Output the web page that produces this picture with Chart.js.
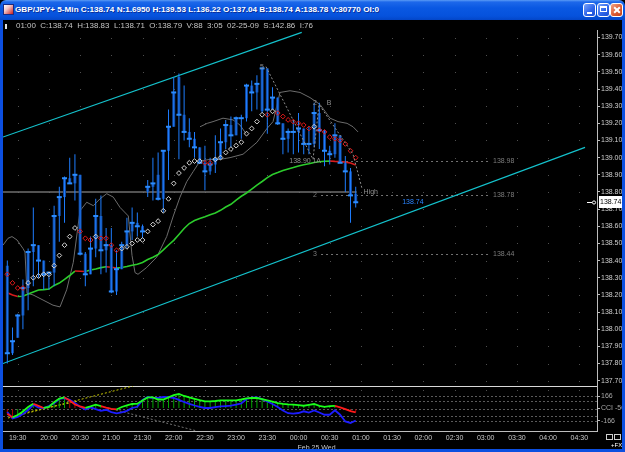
<!DOCTYPE html>
<html>
<head>
<meta charset="utf-8">
<title>GBP/JPY+ 5-Min</title>
<script src="https://cdn.jsdelivr.net/npm/chart.js@4.4.1/dist/chart.umd.min.js"></script>
<style>
  html, body { margin: 0; padding: 0; background: #000; }
  body { position: relative; width: 625px; height: 452px; overflow: hidden; font-family: "Liberation Sans", Arial, sans-serif; }
  #titlebar { position: absolute; left: 0; top: 0; width: 625px; height: 20px;
    background: linear-gradient(#5b9bf5 0%, #1d68ea 10%, #0a58e2 40%, #0652dc 80%, #0346c8 100%); border-radius: 6px 6px 0 0; }
  #icon { position: absolute; left: 3px; top: 4px; width: 11px; height: 11px; background: linear-gradient(135deg, #ffffff 0%, #f2c2c2 40%, #c81c1c 100%); border: 1px solid #1a2a80; box-sizing: border-box; }
  #titleText { position: absolute; left: 15px; top: 5px; color: #fff; font: bold 8px "Liberation Sans", Arial, sans-serif; line-height: 10px; white-space: pre; transform-origin: 0 0; text-shadow: 1px 1px 0 #0b2f9a; }
  .btn { position: absolute; top: 3px; width: 13px; height: 14px; border: 1px solid #fff; border-radius: 3px; box-sizing: border-box;
    background: linear-gradient(135deg, #7aa4fa 0%, #2f66ea 55%, #1c4fd2 100%); }
  #bMin { left: 583px; } #bMax { left: 597px; }
  #bClose { left: 610px; background: linear-gradient(135deg, #f2a588 0%, #dc5c34 55%, #c2401a 100%); }
  #bMin i { position: absolute; left: 3px; top: 8px; width: 5px; height: 2px; background: #fff; }
  #bMax i { position: absolute; left: 2px; top: 2px; width: 7px; height: 6px; border: 1px solid #fff; border-top-width: 2px; box-sizing: border-box; }
  #bClose i, #bClose b { position: absolute; left: 2px; top: 5px; width: 8px; height: 2px; background: #fff; transform: rotate(45deg); }
  #bClose b { transform: rotate(-45deg); }
  #info { position: absolute; left: 16px; top: 21px; color: #c4c4c4; font: 7px "Liberation Sans", Arial, sans-serif; line-height: 10px; white-space: pre; transform-origin: 0 0; }
  #mark { position: absolute; left: 5px; top: 24px; width: 2px; height: 5px; background: #e0e0e0; }
  canvas { position: absolute; left: 0; top: 20px; }
  .frame { position: absolute; background: #0c4fe0; }
  #fx { position: absolute; left: 611px; top: 442px; color: #fff; font: 6px "Liberation Sans", Arial, sans-serif; line-height: 7px; }
  .box { position: absolute; top: 434px; width: 7px; height: 6px; border: 1px solid #cfcfcf; box-sizing: border-box; }
</style>
</head>
<body>
<div id="titlebar">
  <div id="icon"></div>
  <div id="titleText">GBP/JPY+ 5-Min C:138.74 N:1.6950 H:139.53 L:136.22 O:137.04 B:138.74 A:138.78 V:30770 OI:0</div>
  <div class="btn" id="bMin"><i></i></div>
  <div class="btn" id="bMax"><i></i></div>
  <div class="btn" id="bClose"><i></i><b></b></div>
</div>
<canvas id="chart" width="625" height="432"></canvas>
<div id="info">01:00  C:138.74  H:138.83  L:138.71  O:138.79  V:88  3:05  02-25-09  S:142.86  I:76</div>
<div id="mark"></div>
<div class="box" style="left:606px"></div>
<div class="box" style="left:614px"></div>
<div id="fx">+FX</div>
<div class="frame" style="left:0;top:20px;width:3px;height:432px"></div>
<div class="frame" style="left:622px;top:20px;width:3px;height:432px"></div>
<div class="frame" style="left:0;top:449px;width:625px;height:3px"></div>

<script>
// 5-minute bars, 19:20 onwards (bar index = position on the x axis)
const opens  = [138.37, 137.86, 137.95, 138.08, 138.24, 138.45, 138.49, 138.40, 138.32, 138.33,
                138.66, 138.77, 138.88, 138.85, 138.90, 138.44, 138.32, 138.47, 138.66, 138.46,
                138.49, 138.22, 138.35, 138.49, 138.57, 138.62, 138.60, 138.80, 138.83, 138.90,
                138.76, 139.04, 139.18, 139.47, 139.25, 139.15, 139.11, 139.06, 138.97, 138.92,
                138.96, 138.99, 139.09, 139.19, 139.13, 139.23, 139.23, 139.42, 139.38, 139.27,
                139.52, 139.28, 139.35, 139.20, 139.11, 139.15, 139.15, 139.17, 139.08, 139.08,
                139.26, 139.16, 139.04, 139.02, 139.13, 138.97, 138.92, 138.79];
const highs  = [138.40, 138.01, 138.09, 138.29, 138.47, 138.71, 138.49, 138.40, 138.33, 138.72,
                138.83, 138.89, 139.00, 139.02, 138.90, 138.45, 138.54, 138.76, 138.78, 138.59,
                138.59, 138.46, 138.51, 138.65, 138.71, 138.68, 138.61, 138.87, 139.00, 139.03,
                139.04, 139.28, 139.47, 139.49, 139.42, 139.23, 139.15, 139.06, 139.07, 139.00,
                139.13, 139.17, 139.22, 139.24, 139.24, 139.25, 139.43, 139.45, 139.48, 139.53,
                139.52, 139.41, 139.35, 139.20, 139.17, 139.22, 139.26, 139.17, 139.18, 139.32,
                139.32, 139.16, 139.07, 139.20, 139.13, 139.01, 138.94, 138.83];
const lows   = [137.80, 137.85, 137.95, 138.00, 138.11, 138.25, 138.30, 138.23, 138.23, 138.25,
                138.51, 138.62, 138.85, 138.75, 138.43, 138.25, 138.32, 138.42, 138.32, 138.33,
                138.21, 138.20, 138.35, 138.47, 138.52, 138.54, 138.53, 138.77, 138.75, 138.75,
                138.68, 138.87, 139.18, 138.99, 139.10, 139.06, 139.00, 138.97, 138.81, 138.90,
                138.91, 138.99, 139.05, 139.06, 139.13, 139.11, 139.21, 139.27, 139.28, 139.26,
                139.14, 139.28, 139.19, 139.02, 139.03, 139.02, 139.03, 139.02, 139.02, 139.06,
                139.05, 138.95, 138.96, 139.00, 138.97, 138.80, 138.62, 138.71];
const closes = [137.86, 137.93, 138.08, 138.24, 138.45, 138.49, 138.40, 138.32, 138.33, 138.66,
                138.77, 138.88, 138.85, 138.90, 138.44, 138.32, 138.47, 138.66, 138.46, 138.49,
                138.22, 138.35, 138.49, 138.57, 138.62, 138.60, 138.57, 138.83, 138.85, 138.76,
                139.04, 139.18, 139.38, 139.25, 139.15, 139.11, 139.06, 138.97, 138.92, 138.96,
                138.99, 139.09, 139.19, 139.13, 139.23, 139.23, 139.42, 139.38, 139.43, 139.52,
                139.28, 139.35, 139.20, 139.11, 139.15, 139.15, 139.17, 139.08, 139.08, 139.26,
                139.16, 139.04, 139.02, 139.13, 138.97, 138.92, 138.78, 138.74];

// moving average (green rising, red falling)
const maValues = [138.213, 138.199, 138.191, 138.192, 138.205, 138.217, 138.229, 138.231, 138.234, 138.255,
                  138.269, 138.290, 138.313, 138.339, 138.338, 138.336, 138.345, 138.351, 138.359, 138.364,
                  138.361, 138.356, 138.360, 138.366, 138.373, 138.379, 138.389, 138.406, 138.419, 138.435,
                  138.462, 138.491, 138.518, 138.552, 138.587, 138.616, 138.634, 138.645, 138.655, 138.667,
                  138.678, 138.693, 138.712, 138.728, 138.753, 138.775, 138.794, 138.817, 138.840, 138.861,
                  138.884, 138.902, 138.913, 138.925, 138.934, 138.942, 138.951, 138.959, 138.964, 138.972,
                  138.976, 138.979, 138.980, 138.978, 138.977, 138.974, 138.969, 138.957];

// parabolic SAR; sarUp 1 = below price (white), 0 = above price (red)
const sarValues = [138.32, 138.27, 138.24, 138.24, 138.27, 138.30, 138.31, 138.32, 138.32, 138.37,
                   138.43, 138.49, 138.54, 138.59, 138.57, 138.53, 138.52, 138.54, 138.53, 138.53,
                   138.49, 138.46, 138.47, 138.48, 138.50, 138.52, 138.52, 138.57, 138.61, 138.63,
                   138.69, 138.76, 138.85, 138.91, 138.94, 138.97, 138.98, 138.98, 138.97, 138.97,
                   138.99, 139.00, 139.03, 139.05, 139.07, 139.09, 139.14, 139.17, 139.21, 139.25,
                   139.25, 139.27, 139.26, 139.24, 139.22, 139.21, 139.20, 139.19, 139.17, 139.18,
                   139.16, 139.15, 139.12, 139.11, 139.10, 139.08, 139.04, 139.00];
const sarUp = [0, 0, 0, 0, 1, 1, 1, 1, 1, 1,
               1, 1, 1, 1, 0, 0, 0, 1, 0, 0,
               0, 0, 1, 1, 1, 1, 1, 1, 1, 1,
               1, 1, 1, 1, 1, 1, 1, 1, 0, 0,
               1, 1, 1, 1, 1, 1, 1, 1, 1, 1,
               0, 1, 0, 0, 0, 0, 0, 0, 0, 1,
               0, 0, 0, 0, 0, 0, 0, 0];

// thin grey envelope curves (bar index, price)
const grayX = [-0.83, 0.13, 0.90, 1.87, 3.02, 3.40, 3.79, 4.94, 6.87, 8.79, 10.13, 11.42, 12.69, 13.98, 15.27,
               16.54, 17.83, 19.12, 20.38, 21.67, 23.27, 23.98, 24.56, 25.13, 26.81, 28.73, 30.65, 31.92,
               33.21, 34.50, 35.77, 37.06, 38.98, 40.90, 42.83, 45.33, 48.02, 49.94, 51.10, 52.44, 54.37,
               56.29, 58.21, 60.13, 62.06, 63.60, 65.33, 66.48, 67.44];
const grayY = [138.49, 138.53, 138.54, 138.52, 138.47, 138.45, 138.21, 138.20, 138.17, 138.14, 138.13, 138.23,
               138.39, 138.69, 138.74, 138.72, 138.76, 138.79, 138.77, 138.71, 138.66, 138.43, 138.33, 138.32,
               138.36, 138.42, 138.54, 138.66, 138.77, 138.86, 138.92, 138.98, 138.99, 138.99, 139.00, 139.02,
               139.09, 139.17, 139.21, 139.38, 139.39, 139.38, 139.35, 139.31, 139.23, 139.21, 139.20, 139.18,
               139.15];
const gray2X = [37.06, 38.44, 39.56, 41.48, 43.40, 44.75, 45.90];
const gray2Y = [139.18, 139.20, 139.21, 139.23, 139.22, 139.19, 139.14];

// trend channel and wave lines
const channelTopX = [-0.83, 56.62], channelTopY = [139.12, 139.73];
const channelLowX = [-0.83, 111.10], channelLowY = [137.80, 139.06];
const levelX = [-0.83, 67.19], levelY = [138.80, 138.80];
const waveX = [49.75, 58.79, 59.94, 66.48, 68.21];
const waveY = [139.53, 138.99, 139.31, 139.02, 138.82];

// projected levels
const fibLevels = [138.98, 138.78, 138.44];
const fibTags = ['', '2', '3'];
const fibFrom = 60.33, fibTo = 92.83, fibLabelAt = 93.4, fibTagAt = 59.17;

// notes on the price panel
const noteText  = ['5', '2', 'B', '138.90', '1A', 'High'];
const noteX     = [48.98, 59.17, 61.87, 56.29, 59.5, 69.9];
const notePrice = [139.53, 139.32, 139.32, 138.98, 138.98, 138.80];
const lastLabelX = 78.0;

// CCI panel
const cciFast = [-69, -119, -87, -40, 20, 63, 35, 7, 20, 84,
                 132, 147, 107, 53, 27, 9, 27, 51, 33, 13,
                 -4, -13, 20, 43, 60, 64, 107, 147, 149, 120,
                 120, 149, 180, 193, 167, 147, 129, 111, 96, 96,
                 100, 107, 109, 109, 109, 120, 136, 140, 140, 124,
                 107, 91, 73, 63, 56, 51, 44, 37, 49, 60,
                 36, 23, 31, 36, 16, -9, -36, -51];
const cciDown = [1, 1, 0, 0, 0, 0, 1, 1, 0, 0,
                 0, 0, 1, 1, 1, 1, 0, 0, 0, 1,
                 1, 1, 0, 0, 0, 0, 0, 0, 0, 0,
                 0, 0, 0, 0, 0, 0, 0, 0, 0, 0,
                 0, 0, 0, 0, 0, 0, 0, 0, 0, 0,
                 0, 0, 0, 0, 0, 0, 0, 0, 0, 0,
                 0, 0, 0, 0, 1, 1, 1, 1];
const cciSlow = [-47, -133, -113, -73, -20, 49, 13, 7, 33, 71,
                 127, 137, 116, 73, 24, -13, 16, -7, -31, -17,
                 -49, -64, -53, -31, 7, 23, 113, 153, 140, 140,
                 156, 151, 140, 116, 87, 63, 40, 23, 7, 7,
                 17, 28, 33, 37, 51, 67, 127, 144, 148, 124,
                 93, 60, 20, -27, -63, -68, -60, -37, -55, -27,
                 -53, -83, -83, -24, -83, -173, -193, -160];
const cciLevels = [166, 100, 0, -100, -166];
const cciTicks = [166, 0, -166];
const cciLabel = 'CCI -50';
const cciTrend1X = [0.13, 24.17], cciTrend1Y = [-127, 300];
const cciTrend2X = [2.44, 13.6], cciTrend2Y = [-73, 100];
const cciTrend3X = [19.37, 36.48], cciTrend3Y = [7, -300];

// time axis
const timeLabels = ['19:30', '20:00', '20:30', '21:00', '21:30', '22:00', '22:30', '23:00', '23:30', '00:00',
                    '00:30', '01:00', '01:30', '02:00', '02:30', '03:00', '03:30', '04:00', '04:30'];
const firstTick = 2, tickStep = 6;
const dateLabel = 'Feb 25 Wed';
const dateTick = 56;

const pts = (xs, ys) => xs.map((v, k) => ({x: v, y: ys[k]}));
const byIndex = arr => arr.map((v, i) => ({x: i, y: v}));
const tickFont = {family: 'Liberation Sans', size: 7};

const chrome = {
  id: 'chrome',
  beforeDraw(chart) {
    const c = chart.ctx;
    c.save();
    c.fillStyle = '#000';
    c.fillRect(0, 0, chart.width, chart.height);
    c.restore();
  },
  beforeDatasetsDraw(chart) {
    const {ctx: c, chartArea: a} = chart;
    const {x, y, yC} = chart.scales;
    c.save();
    // grid dots at each intersection
    c.fillStyle = '#4f4f4f';
    x.ticks.forEach(t => {
      const px = Math.round(x.getPixelForValue(t.value));
      y.ticks.forEach(u => c.fillRect(px, Math.round(y.getPixelForValue(u.value)), 1, 1));
      c.fillRect(px, Math.round(yC.top) + 4, 1, 1);
    });
    // CCI levels
    c.strokeStyle = '#5a5a5a';
    c.lineWidth = 1;
    c.setLineDash([2, 2]);
    cciLevels.forEach(v => {
      const py = Math.round(yC.getPixelForValue(v)) + 0.5;
      c.beginPath(); c.moveTo(a.left, py); c.lineTo(a.right, py); c.stroke();
    });
    // projected levels
    c.strokeStyle = '#727272';
    c.setLineDash([2, 3]);
    fibLevels.forEach(v => {
      const py = Math.round(y.getPixelForValue(v)) + 0.5;
      c.beginPath(); c.moveTo(x.getPixelForValue(fibFrom), py); c.lineTo(x.getPixelForValue(fibTo), py); c.stroke();
    });
    c.setLineDash([]);
    // panel separator
    c.strokeStyle = '#d8d8d8';
    const sep = Math.round(yC.top) + 0.5;
    c.beginPath(); c.moveTo(a.left, sep); c.lineTo(a.right, sep); c.stroke();
    c.restore();
  },
  afterDatasetsDraw(chart) {
    const {ctx: c} = chart;
    const {x, y} = chart.scales;
    c.save();
    c.font = '7px "Liberation Sans"';
    c.textBaseline = 'middle';
    // level labels
    c.fillStyle = '#7c7c7c';
    fibLevels.forEach((v, k) => {
      const py = y.getPixelForValue(v);
      c.textAlign = 'left';
      c.fillText(v.toFixed(2), x.getPixelForValue(fibLabelAt), py);
      if (fibTags[k]) {
        c.textAlign = 'center';
        c.fillText(fibTags[k], x.getPixelForValue(fibTagAt), py);
      }
    });
    // wave notes
    c.fillStyle = '#8e8e8e';
    c.textAlign = 'center';
    noteText.forEach((t, k) => c.fillText(t, x.getPixelForValue(noteX[k]), y.getPixelForValue(notePrice[k])));
    // last price in blue
    const last = closes[closes.length - 1];
    const ly = y.getPixelForValue(last);
    c.fillStyle = '#2a84ff';
    c.fillText(last.toFixed(2), x.getPixelForValue(lastLabelX), ly);
    // price marker on the axis
    c.fillStyle = '#fff';
    c.fillRect(599, Math.round(ly) - 6, 23, 12);
    c.fillStyle = '#000';
    c.textAlign = 'left';
    c.fillText(last.toFixed(2), 600, ly);
    c.strokeStyle = '#fff';
    c.lineWidth = 1;
    c.beginPath(); c.moveTo(587, Math.round(ly) + 0.5); c.lineTo(592, Math.round(ly) + 0.5); c.stroke();
    c.beginPath(); c.arc(594, Math.round(ly) + 0.5, 1.6, 0, Math.PI * 2); c.stroke();
    // date under the time labels
    c.fillStyle = '#c4c4c4';
    c.fillText(dateLabel, x.getPixelForValue(dateTick) - 1, chart.height - 4);
    c.restore();
  }
};

new Chart(document.getElementById('chart'), {
  type: 'bar',
  data: {
    datasets: [
      {type: 'line', label: 'wave', data: pts(waveX, waveY), borderColor: '#8c8c8c', borderWidth: 1, borderDash: [2, 2], pointRadius: 0, order: 1},
      {type: 'line', label: 'SAR up', data: byIndex(sarValues).filter((p, i) => sarUp[i]), showLine: false, pointStyle: 'rectRot',
       pointRadius: 2.4, pointBorderWidth: 1, pointBorderColor: '#d4d4d4', pointBackgroundColor: 'rgba(0,0,0,0)', order: 2},
      {type: 'line', label: 'SAR down', data: byIndex(sarValues).filter((p, i) => !sarUp[i]), showLine: false, pointStyle: 'rectRot',
       pointRadius: 2.4, pointBorderWidth: 1, pointBorderColor: '#e01818', pointBackgroundColor: 'rgba(0,0,0,0)', order: 2},
      {type: 'line', label: 'close', data: byIndex(closes), showLine: false, pointStyle: 'line', pointRadius: 2.5,
       pointBorderWidth: 2, pointBorderColor: '#2b8cff', order: 3},
      {type: 'bar', label: 'range', data: highs.map((h, i) => ({x: i, y: [lows[i], h]})), backgroundColor: '#1e7dff', barThickness: 1, order: 4},
      {type: 'bar', label: 'body', data: opens.map((o, i) => ({x: i, y: [Math.min(o, closes[i]), Math.max(o, closes[i])]})),
       backgroundColor: '#12489c', barThickness: 3, order: 5},
      {type: 'line', label: 'MA', data: byIndex(maValues), borderWidth: 1.6, pointRadius: 0, borderColor: '#2ccc2c',
       segment: {borderColor: s => s.p1.parsed.y < s.p0.parsed.y ? '#d81c1c' : '#2ccc2c'}, order: 6},
      {type: 'line', label: 'band', data: pts(grayX, grayY), borderColor: '#6c6c6c', borderWidth: 1, pointRadius: 0, order: 7},
      {type: 'line', label: 'band 2', data: pts(gray2X, gray2Y), borderColor: '#6c6c6c', borderWidth: 1, pointRadius: 0, order: 7},
      {type: 'line', label: 'channel top', data: pts(channelTopX, channelTopY), borderColor: '#14c2cc', borderWidth: 1.2, pointRadius: 0, order: 8},
      {type: 'line', label: 'channel low', data: pts(channelLowX, channelLowY), borderColor: '#14c2cc', borderWidth: 1.2, pointRadius: 0, order: 8},
      {type: 'line', label: 'level', data: pts(levelX, levelY), borderColor: '#6e6e6e', borderWidth: 1.5, pointRadius: 0, order: 9},

      {type: 'line', label: 'CCI', yAxisID: 'yC', data: byIndex(cciFast), borderWidth: 1.8, pointRadius: 0, borderColor: '#1aff1a',
       segment: {borderColor: s => cciDown[s.p1DataIndex] ? '#ff1a1a' : '#1aff1a'}, order: 10},
      {type: 'line', label: 'CCI slow', yAxisID: 'yC', data: byIndex(cciSlow), borderWidth: 1.8, pointRadius: 0, borderColor: '#1c1cff', order: 11},
      {type: 'bar', label: 'CCI hist', yAxisID: 'yC', data: cciFast.map((v, i) => ({x: i, y: [0, v]})),
       backgroundColor: cciDown.map(d => d ? '#a80000' : '#00a800'), barThickness: 1, order: 12},
      {type: 'line', label: 'CCI trend 1', yAxisID: 'yC', data: pts(cciTrend1X, cciTrend1Y), borderColor: '#c8c800', borderWidth: 1, borderDash: [2, 2], pointRadius: 0, order: 13},
      {type: 'line', label: 'CCI trend 2', yAxisID: 'yC', data: pts(cciTrend2X, cciTrend2Y), borderColor: '#c8c800', borderWidth: 1, borderDash: [2, 2], pointRadius: 0, order: 13},
      {type: 'line', label: 'CCI trend 3', yAxisID: 'yC', data: pts(cciTrend3X, cciTrend3Y), borderColor: '#707070', borderWidth: 1, borderDash: [2, 2], pointRadius: 0, order: 13}
    ]
  },
  options: {
    responsive: false,
    animation: false,
    events: [],
    layout: {padding: {left: 3, top: 10, right: 0, bottom: 0}, autoPadding: false},
    datasets: {bar: {grouped: false, inflateAmount: 0, borderWidth: 0}},
    plugins: {legend: {display: false}, tooltip: {enabled: false}},
    scales: {
      x: {
        type: 'linear', min: -0.83, max: 113.4, offset: false,
        grid: {display: true, offset: false, drawOnChartArea: false, drawTicks: false},
        border: {display: true, color: '#bdbdbd'},
        ticks: {color: '#c8c8c8', font: tickFont, padding: 3, maxRotation: 0, autoSkip: false, callback: (v, k) => timeLabels[k]},
        afterBuildTicks: s => { s.ticks = timeLabels.map((t, k) => ({value: firstTick + k * tickStep})); },
        afterFit: s => { s.height = 21; s.paddingLeft = 0; s.paddingRight = 0; }
      },
      y: {
        type: 'linear', position: 'right', stack: 'panels', stackWeight: 356, min: 137.669, max: 139.744,
        grid: {display: true, drawOnChartArea: false, drawTicks: true, tickLength: 3, tickColor: '#bdbdbd'},
        border: {display: true, color: '#bdbdbd'},
        ticks: {stepSize: 0.1, includeBounds: false, autoSkip: false, color: '#d0d0d0', font: tickFont, padding: 1,
                callback: v => Number(v).toFixed(2)},
        afterFit: s => { s.width = 28; }
      },
      yC: {
        type: 'linear', position: 'right', stack: 'panels', stackWeight: 45, min: -300, max: 300,
        grid: {display: true, drawOnChartArea: false, drawTicks: true, tickLength: 3, tickColor: '#bdbdbd'},
        border: {display: true, color: '#bdbdbd'},
        ticks: {autoSkip: false, color: '#a8a8a8', font: tickFont, padding: 1,
                callback: v => v === 0 ? cciLabel : String(v)},
        afterBuildTicks: s => { s.ticks = cciTicks.map(v => ({value: v})); },
        afterFit: s => { s.width = 28; }
      }
    }
  },
  plugins: [chrome]
});

// squeeze the header texts to their widths in the window
function fitWidth(id, w) {
  const el = document.getElementById(id);
  const k = w / el.getBoundingClientRect().width;
  el.style.transform = 'scaleX(' + k + ')';
}
fitWidth('titleText', 364);
fitWidth('info', 297);
</script>
</body>
</html>
